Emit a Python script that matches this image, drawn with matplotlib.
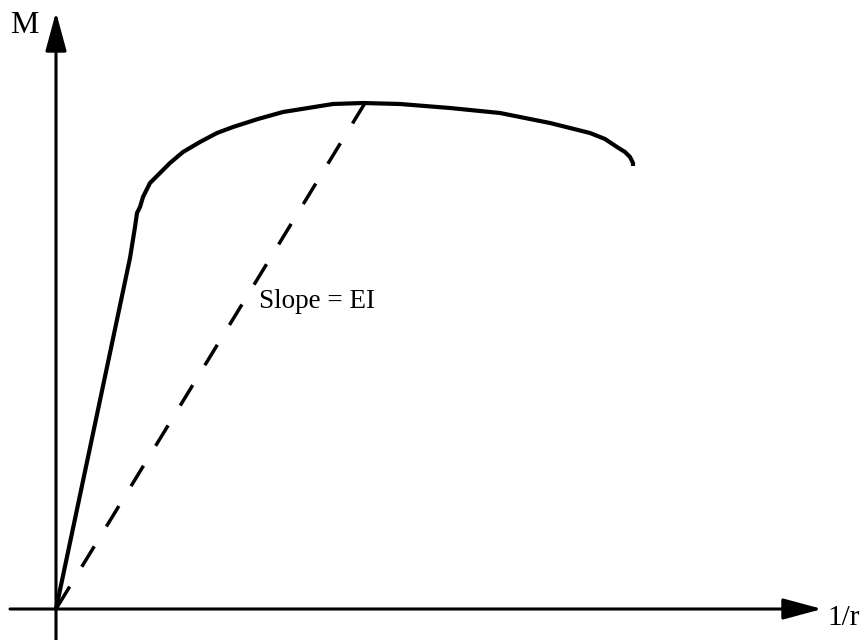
import matplotlib.pyplot as plt

# moment-curvature curve (arbitrary units)
curvature = [0.0, 0.74, 0.79, 0.81, 0.84, 0.87, 0.94, 1.04, 1.14, 1.27, 1.44,
             1.61, 1.77, 2.02, 2.27, 2.52, 2.77, 3.07, 3.44, 3.94, 4.44, 4.94,
             5.34, 5.49, 5.61, 5.69, 5.74, 5.77, 5.77]
moment = [0.0, 3.51, 3.82, 3.96, 4.02, 4.12, 4.26, 4.36, 4.46, 4.57, 4.67,
          4.76, 4.82, 4.90, 4.97, 5.01, 5.05, 5.06, 5.05, 5.01, 4.96, 4.86,
          4.76, 4.70, 4.62, 4.57, 4.52, 4.46, 4.43]

# secant line from the peak back to the origin
secant_x = [3.09, 0.0]
secant_y = [5.06, 0.0]

fig = plt.figure(figsize=(8.68, 6.4), dpi=100)
ax = fig.add_axes([0, 0, 1, 1])
ax.set_xlim(-0.56, 8.12)
ax.set_ylim(-0.31, 6.09)
ax.axis('off')

serif = ['Liberation Serif', 'DejaVu Serif']

# axes with arrow heads
arrow = dict(arrowstyle='-|>,head_length=2.4,head_width=0.65', mutation_scale=10,
             lw=2.2, color='black', shrinkA=0, shrinkB=0)
ax.annotate('', xy=(0, 5.97), xytext=(0, -0.31), arrowprops=arrow)
ax.annotate('', xy=(7.66, 0), xytext=(-0.46, 0), arrowprops=arrow)

ax.plot(curvature, moment, color='black', lw=3.0, solid_capstyle='butt',
        solid_joinstyle='round')
ax.plot(secant_x, secant_y, color='black', lw=2.5, dashes=(6.9, 6.7))

ax.text(2.03, 3.01, 'Slope = EI', fontsize=19.5, family=serif, ha='left', va='baseline')
ax.text(-0.46, 5.76, 'M', fontsize=23, family=serif, ha='left', va='baseline')
ax.text(7.71, -0.16, '1/r', fontsize=21, family=serif, ha='left', va='baseline')

fig.savefig('out.png', dpi=100)
